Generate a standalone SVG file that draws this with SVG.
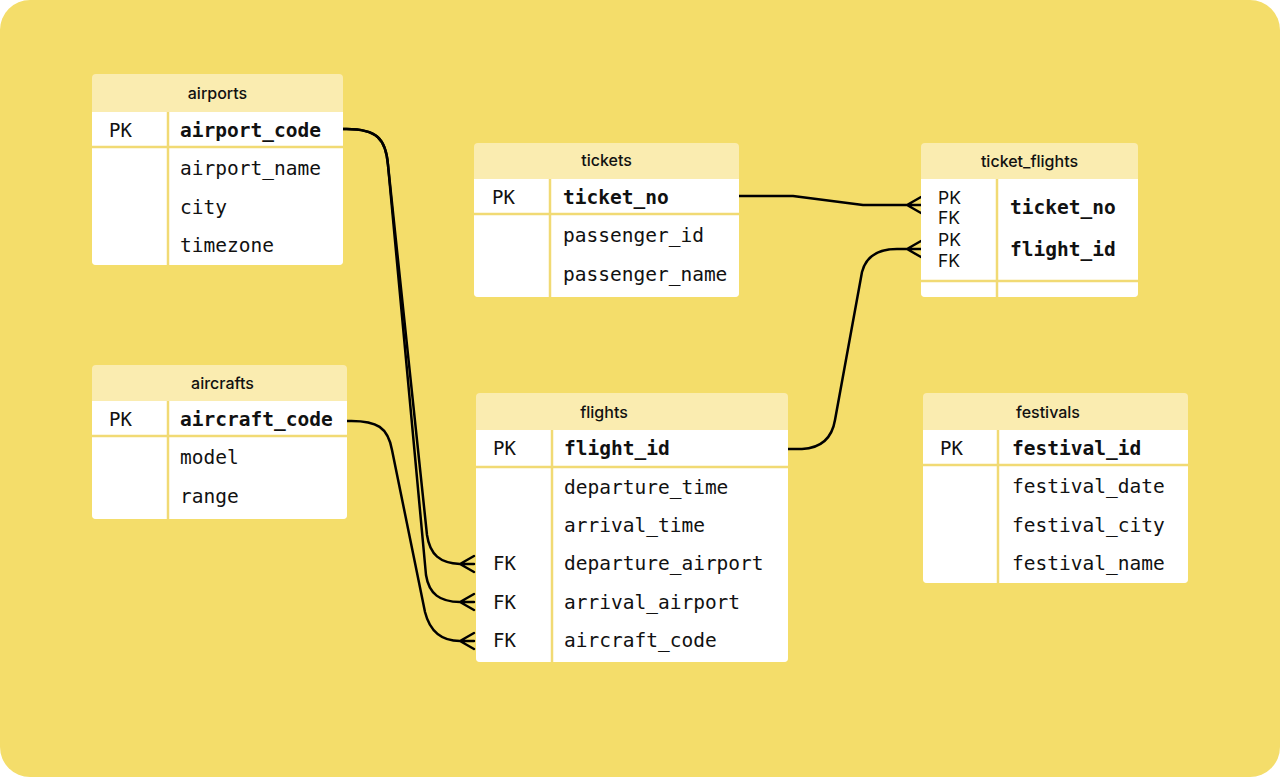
<svg xmlns="http://www.w3.org/2000/svg" width="1280" height="777" viewBox="0 0 1280 777">
<style>
.hdr{fill:#FAECB0}
.body{fill:#FFFFFF}
.div{stroke:#F1DA74;stroke-width:2.5;fill:none}
.ttl{font-family:Inter,"Liberation Sans",sans-serif;font-size:16px;font-weight:500;fill:#111;text-anchor:middle}
.fld{font-family:"DejaVu Sans Mono","Liberation Mono",monospace;font-size:19.5px;fill:#111}
.key{font-family:"DejaVu Sans Mono","Liberation Mono",monospace;font-size:19px;fill:#111}
.pk{font-weight:bold}
.sk{font-family:Inter,"Liberation Sans",sans-serif;font-size:17.5px;fill:#111}
.con{stroke:#000;stroke-width:2.5;fill:none;stroke-linecap:round;stroke-linejoin:round}
</style>
<rect x="0" y="0" width="1280" height="777" fill="#FFFFFF"/>
<rect x="0" y="0" width="1280" height="777" rx="30" fill="#F4DD6A"/>

<g id="connectors">
<path class="con" d="M343,129 C378,128 386,140 388,165 L427,535 C430,555 440,563 460,564 L474,564 M460,564 L474,556 M460,564 L474,572"/>
<path class="con" d="M343,129 C378,128 386,140 388,165 L426,575 C429,594 440,602 460,602 L474,602 M460,602 L474,594 M460,602 L474,610"/>
<path class="con" d="M347,421 C378,420 388,428 392,450 L425,612 C430,632 442,641 460,641 L474,641 M460,641 L474,633 M460,641 L474,649"/>
<path class="con" d="M739,196 L793,196 L863,205 L907,205 L921,205 M907,205 L921,197 M907,205 L921,213"/>
<path class="con" d="M788,449 L802,449 C822,448 832,438 835,420 L862,272 C866,256 878,249 897,249 L907,249 L921,249 M907,249 L921,241 M907,249 L921,257"/>
</g>

<g id="airports">
<rect x="92" y="74" width="251" height="191" rx="4" class="hdr"/>
<rect x="92" y="112" width="251" height="153" rx="4" class="body"/>
<rect x="92" y="112" width="251" height="8" class="body"/>
<line x1="92" y1="147" x2="343" y2="147" class="div"/>
<line x1="168" y1="112" x2="168" y2="265" class="div"/>
<text x="217.5" y="99" class="ttl">airports</text>
<text x="109" y="137" class="key">PK</text>
<text x="180" y="137" class="fld pk">airport_code</text>
<text x="180" y="175" class="fld">airport_name</text>
<text x="180" y="214" class="fld">city</text>
<text x="180" y="252" class="fld">timezone</text>
</g>

<g id="tickets">
<rect x="474" y="143" width="265" height="154" rx="4" class="hdr"/>
<rect x="474" y="179" width="265" height="118" rx="4" class="body"/>
<rect x="474" y="179" width="265" height="8" class="body"/>
<line x1="474" y1="214" x2="739" y2="214" class="div"/>
<line x1="550" y1="179" x2="550" y2="297" class="div"/>
<text x="606.5" y="166" class="ttl">tickets</text>
<text x="492" y="204" class="key">PK</text>
<text x="563" y="204" class="fld pk">ticket_no</text>
<text x="563" y="242" class="fld">passenger_id</text>
<text x="563" y="281" class="fld">passenger_name</text>
</g>

<g id="ticket_flights">
<rect x="921" y="143" width="217" height="154" rx="4" class="hdr"/>
<rect x="921" y="179" width="217" height="118" rx="4" class="body"/>
<rect x="921" y="179" width="217" height="8" class="body"/>
<line x1="921" y1="281" x2="1138" y2="281" class="div"/>
<line x1="997" y1="179" x2="997" y2="297" class="div"/>
<text x="1029.5" y="167" class="ttl">ticket_flights</text>
<text x="938" y="204" class="sk">PK</text>
<text x="938" y="224" class="sk">FK</text>
<text x="938" y="246" class="sk">PK</text>
<text x="938" y="267" class="sk">FK</text>
<text x="1010" y="214" class="fld pk">ticket_no</text>
<text x="1010" y="256" class="fld pk">flight_id</text>
</g>

<g id="aircrafts">
<rect x="92" y="365" width="255" height="154" rx="4" class="hdr"/>
<rect x="92" y="401" width="255" height="118" rx="4" class="body"/>
<rect x="92" y="401" width="255" height="8" class="body"/>
<line x1="92" y1="436" x2="347" y2="436" class="div"/>
<line x1="168" y1="401" x2="168" y2="519" class="div"/>
<text x="222.5" y="389" class="ttl">aircrafts</text>
<text x="109" y="426" class="key">PK</text>
<text x="180" y="426" class="fld pk">aircraft_code</text>
<text x="180" y="464" class="fld">model</text>
<text x="180" y="503" class="fld">range</text>
</g>

<g id="flights">
<rect x="476" y="393" width="312" height="269" rx="4" class="hdr"/>
<rect x="476" y="430" width="312" height="232" rx="4" class="body"/>
<rect x="476" y="430" width="312" height="8" class="body"/>
<line x1="476" y1="467" x2="788" y2="467" class="div"/>
<line x1="552" y1="430" x2="552" y2="662" class="div"/>
<text x="604" y="418" class="ttl">flights</text>
<text x="493" y="455" class="key">PK</text>
<text x="564" y="455" class="fld pk">flight_id</text>
<text x="564" y="494" class="fld">departure_time</text>
<text x="564" y="532" class="fld">arrival_time</text>
<text x="493" y="570" class="key">FK</text>
<text x="564" y="570" class="fld">departure_airport</text>
<text x="493" y="609" class="key">FK</text>
<text x="564" y="609" class="fld">arrival_airport</text>
<text x="493" y="647" class="key">FK</text>
<text x="564" y="647" class="fld">aircraft_code</text>
</g>

<g id="festivals">
<rect x="923" y="393" width="265" height="190" rx="4" class="hdr"/>
<rect x="923" y="430" width="265" height="153" rx="4" class="body"/>
<rect x="923" y="430" width="265" height="8" class="body"/>
<line x1="923" y1="465" x2="1188" y2="465" class="div"/>
<line x1="998" y1="430" x2="998" y2="583" class="div"/>
<text x="1048" y="418" class="ttl">festivals</text>
<text x="940" y="455" class="key">PK</text>
<text x="1012" y="455" class="fld pk">festival_id</text>
<text x="1012" y="493" class="fld">festival_date</text>
<text x="1012" y="532" class="fld">festival_city</text>
<text x="1012" y="570" class="fld">festival_name</text>
</g>
</svg>
